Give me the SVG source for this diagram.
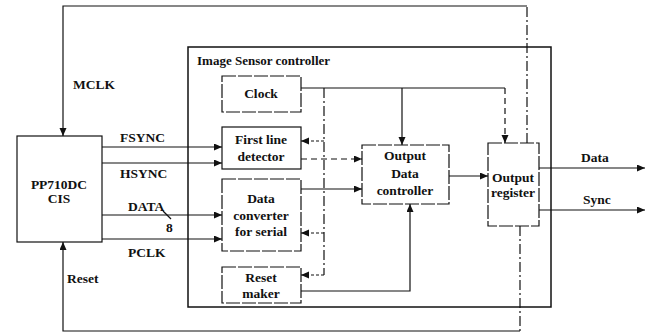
<svg xmlns="http://www.w3.org/2000/svg" width="653" height="333" viewBox="0 0 653 333">
<style>
text{font-family:"Liberation Serif","Times New Roman",serif;font-weight:bold;font-size:13.5px;fill:#111}
.c{text-anchor:middle}
.box{fill:#fff;stroke:#111;stroke-width:1.2}
.dash{stroke-dasharray:14,2}
.ln{fill:none;stroke:#111;stroke-width:1.2}
.dd{stroke-dasharray:10,3,2,3}
.dt{stroke-dasharray:3,2}
.ds{stroke-dasharray:6,4}
</style>
<defs>
<marker id="ah" markerWidth="9" markerHeight="8" refX="8" refY="3.5" orient="auto" markerUnits="userSpaceOnUse">
<path d="M0,0 L8,3.5 L0,7 z" fill="#111"/>
</marker>
</defs>
<g id="outer">
<rect x="188" y="47" width="363" height="260" fill="#fff" stroke="#111" stroke-width="1.5"/>
<text x="197" y="65" style="font-size:13px">Image Sensor controller</text>
</g>
<g id="connectors">
<path class="ln dd" d="M527,143 V6"/>
<path class="ln" d="M527,6 H63 V136" marker-end="url(#ah)"/>
<path class="ln" d="M102,147 H222" marker-end="url(#ah)"/>
<path class="ln" d="M102,163 H222" marker-end="url(#ah)"/>
<path class="ln" d="M102,215 H222" marker-end="url(#ah)"/>
<path class="ln" d="M163,211 L171,219"/>
<path class="ln" d="M102,239 H222" marker-end="url(#ah)"/>
<path class="ln dd" d="M520,226 V331"/>
<path class="ln" d="M520,331 H63 V242" marker-end="url(#ah)"/>
<path class="ln" d="M301,88 H505"/>
<path class="ln ds" d="M505,88 V143" marker-end="url(#ah)"/>
<path class="ln" d="M402,88 V145" marker-end="url(#ah)"/>
<path class="ln dd" d="M324,88 V275"/>
<path class="ln dt" d="M324,275 H301" marker-end="url(#ah)"/>
<path class="ln dt" d="M324,141 H301" marker-end="url(#ah)"/>
<path class="ln dt" d="M324,233 H301" marker-end="url(#ah)"/>
<path class="ln ds" d="M301,159 H362" marker-end="url(#ah)"/>
<path class="ln" d="M301,189 H362" marker-end="url(#ah)"/>
<path class="ln" d="M301,291 H410 V204" marker-end="url(#ah)"/>
<path class="ln" d="M449,176 H488" marker-end="url(#ah)"/>
<path class="ln" d="M539,168 H645" marker-end="url(#ah)"/>
<path class="ln" d="M539,210 H645" marker-end="url(#ah)"/>
</g>
<g id="labels">
<text x="73" y="89">MCLK</text>
<text x="120" y="142">FSYNC</text>
<text x="120" y="178">HSYNC</text>
<text x="128" y="211">DATA</text>
<text x="166" y="232">8</text>
<text x="128" y="257">PCLK</text>
<text x="67" y="283">Reset</text>
<text x="581" y="162">Data</text>
<text x="583" y="204">Sync</text>
</g>
<g id="cis">
<rect class="box" x="17" y="136" width="85" height="106"/>
<text class="c" x="59" y="189">PP710DC</text>
<text class="c" x="59" y="203">CIS</text>
</g>
<g id="clock">
<rect class="box dash" x="222" y="76" width="79" height="36"/>
<text class="c" x="261" y="98">Clock</text>
</g>
<g id="first-line-detector">
<rect class="box" x="222" y="127" width="79" height="42"/>
<text class="c" x="261" y="144">First line</text>
<text class="c" x="261" y="161">detector</text>
</g>
<g id="data-converter">
<rect class="box dash" x="222" y="179" width="79" height="72"/>
<text class="c" x="261" y="203">Data</text>
<text class="c" x="261" y="220">converter</text>
<text class="c" x="261" y="236">for serial</text>
</g>
<g id="reset-maker">
<rect class="box dash" x="222" y="267" width="79" height="36"/>
<text class="c" x="261" y="282">Reset</text>
<text class="c" x="261" y="298">maker</text>
</g>
<g id="output-data-controller">
<rect class="box dash" x="362" y="145" width="87" height="59"/>
<text class="c" x="405" y="160">Output</text>
<text class="c" x="405" y="178">Data</text>
<text class="c" x="405" y="195">controller</text>
</g>
<g id="output-register">
<rect class="box dash" x="488" y="143" width="51" height="83"/>
<text class="c" x="513" y="182">Output</text>
<text class="c" x="513" y="197">register</text>
</g>
</svg>
